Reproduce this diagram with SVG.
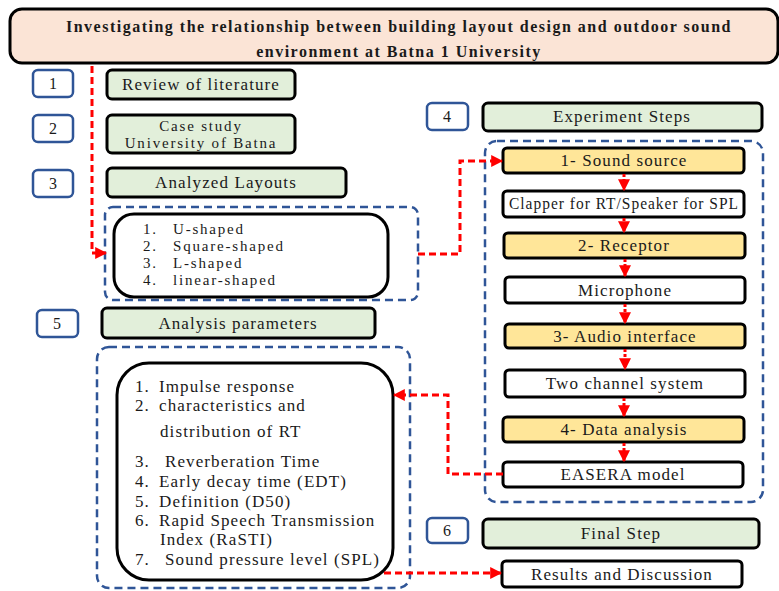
<svg xmlns="http://www.w3.org/2000/svg" width="779" height="591" viewBox="0 0 779 591" font-family="'Liberation Serif', 'DejaVu Serif', serif">
<style>
text{font-family:'Liberation Serif','DejaVu Serif',serif;fill:#1a1a1a;}
.t{font-size:17px;text-anchor:middle;letter-spacing:1.1px;}
.t2{font-size:15px;text-anchor:middle;letter-spacing:1.8px;}
.n{font-size:16px;text-anchor:middle;}
.title{font-size:16px;font-weight:bold;text-anchor:middle;letter-spacing:1.5px;}
.lst{font-size:17px;letter-spacing:1.1px;}
.lst2{font-size:15px;letter-spacing:1.8px;}
.num{fill:#fff;stroke:#2f5597;stroke-width:2.5;}
.grn{fill:#e2efda;stroke:#000;stroke-width:3;}
.yel{fill:#ffe699;stroke:#000;stroke-width:3;}
.wht{fill:#fff;stroke:#000;stroke-width:3;}
.cont{fill:none;stroke:#2f5597;stroke-width:2.5;stroke-dasharray:8 5;}
.red{fill:none;stroke:#ff0000;stroke-width:3;stroke-dasharray:7 4;}
.dot{fill:none;stroke:#ff0000;stroke-width:3;stroke-dasharray:3 2;}
</style>
<defs>
<marker id="ah" viewBox="0 0 10 10" refX="9" refY="5" markerWidth="4" markerHeight="4" orient="auto" markerUnits="strokeWidth">
<path d="M0,0 L10,5 L0,10 Z" fill="#ff0000"/>
</marker>
</defs>
<rect width="779" height="591" fill="#fff"/>

<g id="title">
<rect x="10" y="9" width="768" height="54" rx="12" fill="#fbe4d6" stroke="#000" stroke-width="3"/>
<text class="title" x="399" y="32">Investigating the relationship between building layout design and outdoor sound</text>
<text class="title" x="399" y="57">environment at Batna 1 University</text>
</g>

<g id="n1"><rect class="num" x="33" y="70" width="40" height="27" rx="5"/><text class="n" x="53" y="89">1</text></g>
<g id="n2"><rect class="num" x="33" y="115" width="40" height="27" rx="5"/><text class="n" x="53" y="134">2</text></g>
<g id="n3"><rect class="num" x="33" y="170" width="40" height="27" rx="5"/><text class="n" x="53" y="189">3</text></g>
<g id="n4"><rect class="num" x="427" y="103" width="41" height="27" rx="5"/><text class="n" x="447" y="122">4</text></g>
<g id="n5"><rect class="num" x="37" y="310" width="41" height="27" rx="5"/><text class="n" x="57" y="329">5</text></g>
<g id="n6"><rect class="num" x="427" y="518" width="41" height="25" rx="5"/><text class="n" x="447" y="536">6</text></g>

<g id="review"><rect class="grn" x="107" y="70" width="188" height="29" rx="5"/><text class="t" x="201" y="90">Review of literature</text></g>
<g id="casestudy"><rect class="grn" x="107" y="115" width="188" height="38" rx="5"/><text class="t2" x="201" y="131">Case study</text><text class="t2" x="201" y="148">University of Batna</text></g>
<g id="layouts"><rect class="grn" x="107" y="168" width="239" height="29" rx="5"/><text class="t" x="226" y="188">Analyzed Layouts</text></g>
<g id="experiment"><rect class="grn" x="483" y="103" width="279" height="28" rx="5"/><text class="t" x="622" y="122">Experiment Steps</text></g>
<g id="analysis"><rect class="grn" x="102" y="308" width="273" height="30" rx="5"/><text class="t" x="238" y="329">Analysis parameters</text></g>
<g id="final"><rect class="grn" x="483" y="519" width="276" height="29" rx="5"/><text class="t" x="621" y="539">Final Step</text></g>

<g id="layoutlist">
<rect class="cont" x="105" y="207" width="313" height="93" rx="8"/>
<rect class="wht" x="114" y="214" width="274" height="83" rx="20"/>
<text class="lst2" x="143" y="234">1.</text><text class="lst2" x="173" y="234">U-shaped</text>
<text class="lst2" x="143" y="251">2.</text><text class="lst2" x="173" y="251">Square-shaped</text>
<text class="lst2" x="143" y="268">3.</text><text class="lst2" x="173" y="268">L-shaped</text>
<text class="lst2" x="143" y="285">4.</text><text class="lst2" x="173" y="285">linear-shaped</text>
</g>

<g id="params">
<rect class="cont" x="97" y="347" width="313" height="241" rx="12"/>
<rect class="wht" x="117" y="363" width="276" height="217" rx="32"/>
<text class="lst" x="135" y="392">1.</text><text class="lst" x="159" y="392">Impulse response</text>
<text class="lst" x="135" y="411">2.</text><text class="lst" x="159" y="411">characteristics and</text>
<text class="lst" x="160" y="437">distribution of RT</text>
<text class="lst" x="135" y="467">3.</text><text class="lst" x="165" y="467">Reverberation Time</text>
<text class="lst" x="135" y="487">4.</text><text class="lst" x="159" y="487">Early decay time (EDT)</text>
<text class="lst" x="135" y="507">5.</text><text class="lst" x="159" y="507">Definition (D50)</text>
<text class="lst" x="135" y="526">6.</text><text class="lst" x="159" y="526">Rapid Speech Transmission</text>
<text class="lst" x="160" y="545">Index (RaSTI)</text>
<text class="lst" x="135" y="565">7.</text><text class="lst" x="165" y="565">Sound pressure level (SPL)</text>
</g>

<g id="steps">
<rect class="cont" x="485" y="141" width="278" height="361" rx="12"/>
</g>
<g id="s1"><rect class="yel" x="503" y="148" width="241" height="25" rx="4"/><text class="t" x="624" y="166">1- Sound source</text></g>
<g id="s1b"><rect class="wht" x="503" y="191" width="241" height="26" rx="4"/><text class="t" x="624" y="209" textLength="230" lengthAdjust="spacingAndGlyphs">Clapper for RT/Speaker for SPL</text></g>
<g id="s2"><rect class="yel" x="504" y="233" width="241" height="25" rx="4"/><text class="t" x="624" y="251">2- Receptor</text></g>
<g id="s2b"><rect class="wht" x="505" y="277" width="240" height="26" rx="4"/><text class="t" x="625" y="296">Microphone</text></g>
<g id="s3"><rect class="yel" x="505" y="324" width="240" height="24" rx="4"/><text class="t" x="625" y="342">3- Audio interface</text></g>
<g id="s3b"><rect class="wht" x="505" y="370" width="240" height="27" rx="4"/><text class="t" x="625" y="389">Two channel system</text></g>
<g id="s4"><rect class="yel" x="503" y="417" width="241" height="25" rx="4"/><text class="t" x="624" y="435">4- Data analysis</text></g>
<g id="s4b"><rect class="wht" x="503" y="462" width="240" height="25" rx="4"/><text class="t" x="623" y="480">EASERA model</text></g>
<g id="results"><rect class="wht" x="502" y="561" width="240" height="26" rx="4"/><text class="t" x="622" y="580">Results and Discussion</text></g>

<g id="connectors">
<path class="red" d="M92,66 V253 H106" marker-end="url(#ah)"/>
<path class="red" d="M418,254 H460 V161 H502" marker-end="url(#ah)"/>
<path class="red" d="M503,474 H448 V395 H394" marker-end="url(#ah)"/>
<path class="red" d="M384,573 H501" marker-end="url(#ah)"/>
<path class="dot" d="M624,174 V190" marker-end="url(#ah)"/>
<path class="dot" d="M624,218 V232" marker-end="url(#ah)"/>
<path class="dot" d="M625,259 V276" marker-end="url(#ah)"/>
<path class="dot" d="M625,304 V323" marker-end="url(#ah)"/>
<path class="dot" d="M625,349 V369" marker-end="url(#ah)"/>
<path class="dot" d="M624,398 V416" marker-end="url(#ah)"/>
<path class="dot" d="M624,443 V461" marker-end="url(#ah)"/>
</g>
</svg>
